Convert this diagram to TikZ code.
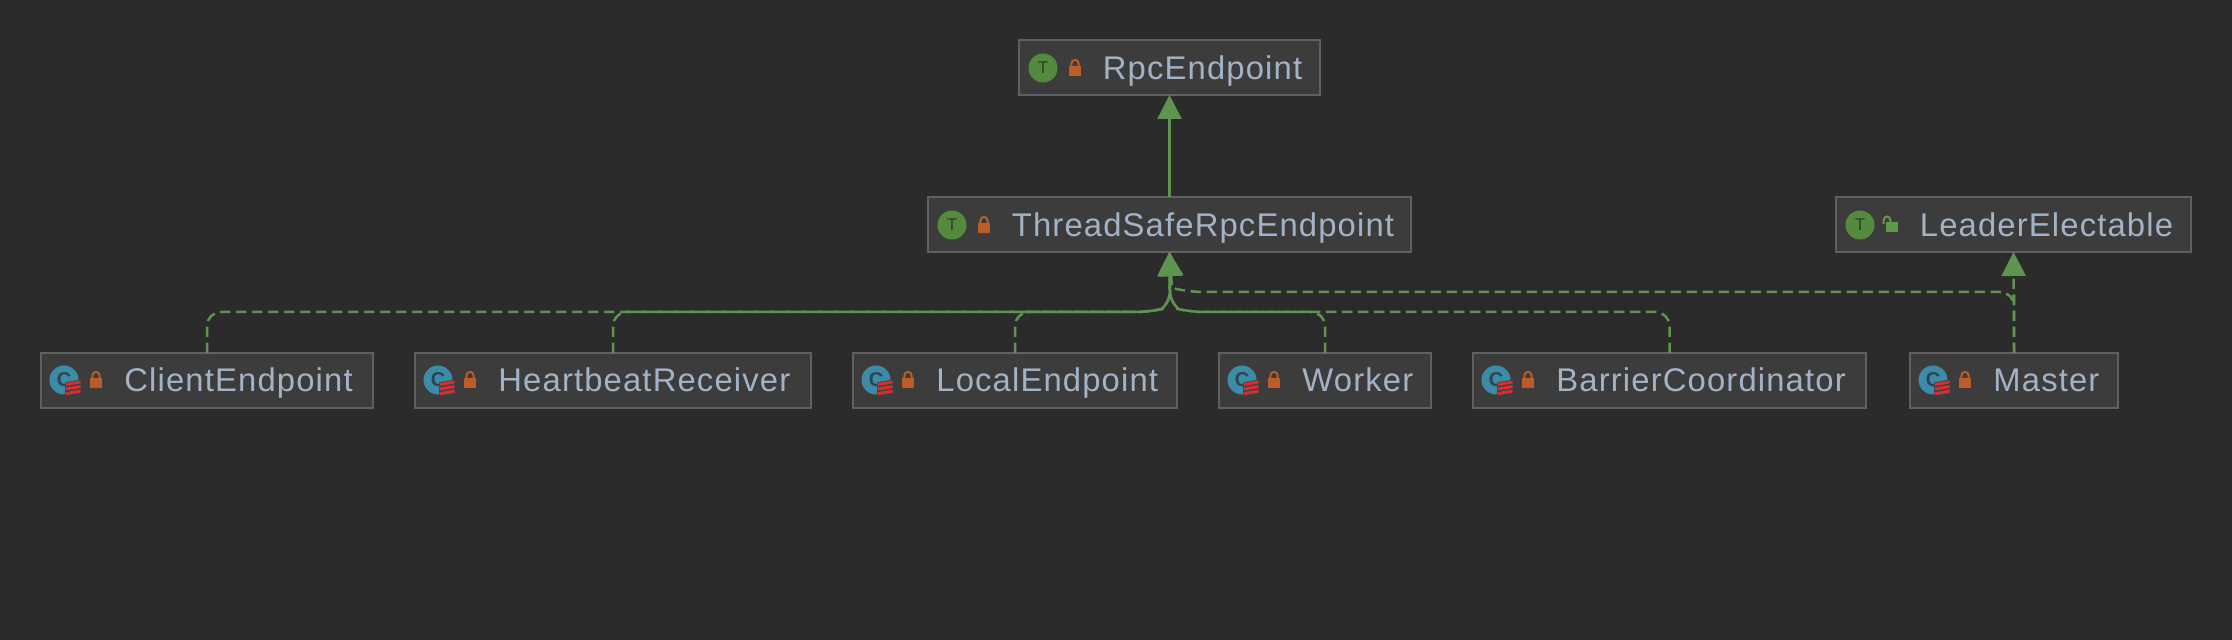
\documentclass[tikz,border=0pt]{standalone}
\usepackage{fontspec}
\setmainfont{Liberation Sans}[LetterSpace=3.5]
\usepackage{tikz}
\usetikzlibrary{arrows.meta}

\definecolor{bgcol}{HTML}{2B2B2B}
\definecolor{boxcol}{HTML}{3C3C3C}
\definecolor{edgecol}{HTML}{606060}
\definecolor{namecol}{HTML}{A3B3C6}
\definecolor{linkcol}{HTML}{5F9350}
\definecolor{traitcol}{HTML}{548A3E}
\definecolor{traitdark}{HTML}{2F3F2A}
\definecolor{classcol}{HTML}{3C8CA8}
\definecolor{classdark}{HTML}{2A4550}
\definecolor{stackcol}{HTML}{E02B27}
\definecolor{lockcol}{HTML}{BC5C28}
\definecolor{openlockcol}{HTML}{5F9A4A}

\tikzset{
  classbox/.style={draw=edgecol,fill=boxcol,line width=0.6pt,inner sep=0,outer sep=0,anchor=north west,minimum height=27.5pt},
  classname/.style={text=namecol,anchor=base west,inner sep=0,font=\fontsize{16.4}{19}\selectfont},
  traiticon/.style={circle,fill=traitcol,text=traitdark,inner sep=0,minimum size=14.5pt,font=\fontsize{8.5}{9}\selectfont},
  classicon/.style={circle,fill=classcol,text=classdark,inner sep=0,minimum size=14.5pt,font=\fontsize{10}{10}\selectfont\bfseries},
  extendsline/.style={linkcol,line width=1.25pt,-{Triangle[length=12pt,width=12pt]}},
  implline/.style={extendsline,dash pattern=on 5.2pt off 2.8pt},
  pics/closedlock/.style={code={
    \fill[lockcol] (-6,-2) rectangle (6,8);
    \draw[lockcol,line width=1pt] (-3.7,-2) -- (-3.7,-4) .. controls (-3.7,-9.5) and (3.7,-9.5) .. (3.7,-4) -- (3.7,-2);
  }},
  pics/openlock/.style={code={
    \fill[openlockcol] (-6,-2) rectangle (6,8);
    \draw[openlockcol,line width=1pt] (-8.5,0) -- (-8.5,-3) .. controls (-8.5,-9) and (-1.5,-9) .. (-1.5,-3) -- (-1.5,-2);
  }},
  pics/redstack/.style={code={
    \fill[classdark] (-8,-6) -- (8,-9) -- (8,6) -- (-8,8) -- cycle;
    \foreach \s in {0,4.6,9.2} {
      \fill[stackcol] (-7.5,-5.5+\s) -- (7.5,-8+\s) -- (7.5,-5.0+\s) -- (-7.5,-2.5+\s) -- cycle;
    }
  }}
}

\begin{document}
\begin{tikzpicture}[x=0.5pt,y=-0.5pt]
\fill[bgcol] (0,0) rectangle (2232,640);
\useasboundingbox (0,0) rectangle (2232,640);

% traits
\foreach \n/\l/\r/\t/\txt in {rpc/1019/1320/40/RpcEndpoint, threadsafe/928/1411/197/ThreadSafeRpcEndpoint, leader/1836/2191/197/LeaderElectable} {
  \node[classbox,minimum width=\r*0.5pt-\l*0.5pt] (\n) at (\l,\t) {};
  \node[traiticon] (\n-icon) at (\l+24,\t+28) {T};
  \node[classname] (\n-label) at (\l+83.5,\t+40) {\txt};
}
\pic at (1075,68) {closedlock};
\pic at (984,225) {closedlock};
\pic at (1892,224) {openlock};

% classes
\foreach \n/\l/\r/\txt in {client/41/373/ClientEndpoint, heartbeat/415/811/HeartbeatReceiver, local/853/1177/LocalEndpoint, worker/1219/1431/Worker, barrier/1473/1866/BarrierCoordinator, master/1910/2118/Master} {
  \node[classbox,minimum width=\r*0.5pt-\l*0.5pt] (\n) at (\l,353) {};
  \node[classicon] (\n-icon) at (\l+23,380) {C};
  \pic at (\l+32,388.5) {redstack};
  \pic at (\l+55,380) {closedlock};
  \node[classname] (\n-label) at (\l+83,392) {\txt};
}

% merge points under threadsafe
\coordinate (mergeleft) at (1150,312);
\coordinate (mergeright) at (1190,312);
\coordinate (mergetop) at (1170,292);
\coordinate (masterturn) at (2014,292);
\coordinate (mastermerge) at (1190,292);

% inheritance
\draw[extendsline] (threadsafe.north) -- (rpc.south);

% realisations
\foreach \n in {client,heartbeat,local} {
  \draw[implline] [rounded corners=7pt] (\n.north) |- (mergeleft) [sharp corners] .. controls (1158,310) and (1169,306) .. (mergetop) -- (threadsafe.south);
}
\foreach \n in {worker,barrier} {
  \draw[implline] [rounded corners=7pt] (\n.north) |- (mergeright) [sharp corners] .. controls (1182,310) and (1171,306) .. (mergetop) -- (threadsafe.south);
}
\draw[implline] [rounded corners=7pt] (master.north) -- (2014,306) -- (masterturn) -- (mastermerge) [sharp corners] -- (1172,288) -- (threadsafe.south);
\draw[implline] (master.north) -- (leader.south);
\end{tikzpicture}
\end{document}
